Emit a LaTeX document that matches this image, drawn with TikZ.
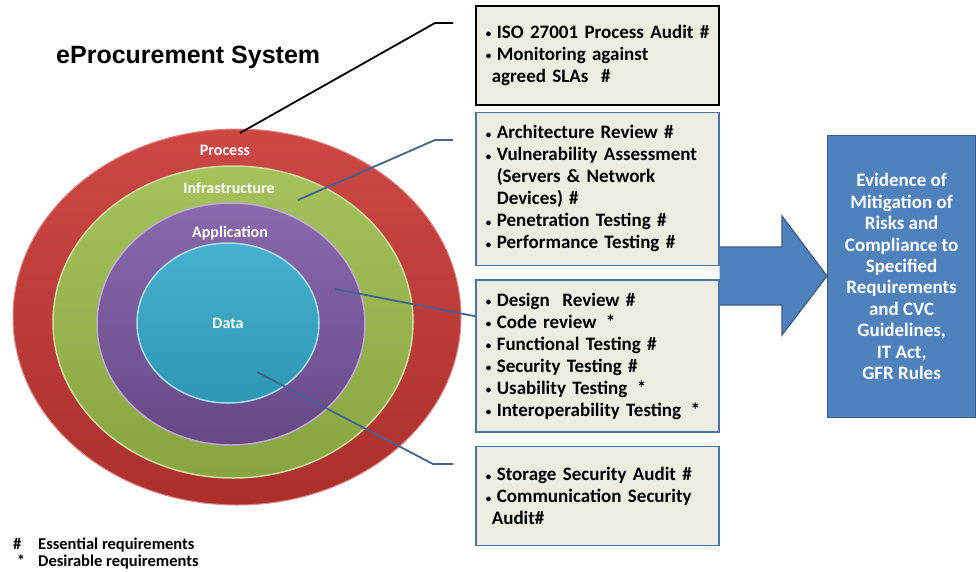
\documentclass[tikz,border=0pt]{standalone}
\usepackage{fontspec}
\setmainfont{Carlito}
\newfontfamily\titlefont{Liberation Sans}
\usetikzlibrary{positioning}

\definecolor{ringred}{HTML}{C93833}
\definecolor{ringgreen}{HTML}{9BBB4A}
\definecolor{ringpurple}{HTML}{7D58A4}
\definecolor{ringcyan}{HTML}{33AACA}
\definecolor{boxfill}{HTML}{EEECE1}
\definecolor{boxedge}{HTML}{4A72A8}
\definecolor{boxblue}{HTML}{4F81BD}
\definecolor{linkblue}{HTML}{41638F}

\newcommand{\bul}{\makebox[11pt][l]{\raisebox{0.5pt}{\fontsize{11}{11}\selectfont•}}}

\begin{document}
\begin{tikzpicture}[x=1pt, y=-1pt,
        box/.style={draw=boxedge, fill=boxfill, line width=1.6pt,
            minimum width=243pt, text width=223pt, inner xsep=10pt, align=left,
            font=\bfseries\fontsize{19}{22}\selectfont},
        ringlabel/.style={text=white, font=\bfseries\fontsize{16}{19}\selectfont},
        link/.style={draw=linkblue, line width=1.8pt}]
    \useasboundingbox (0,0) rectangle (976,571);

    % the four layers
    \shade[top color=ringred!92!white, bottom color=ringred!85!black, draw=ringred!60!white, line width=1pt]
        (237,317) ellipse [x radius=224pt, y radius=188pt];
    \shade[top color=ringgreen!90!white, bottom color=ringgreen!88!black, draw=ringgreen!50!white, line width=1.5pt]
        (233,322) ellipse [x radius=180pt, y radius=156pt];
    \shade[top color=ringpurple!90!white, bottom color=ringpurple!82!black, draw=ringpurple!50!white, line width=1.5pt]
        (231,324) ellipse [x radius=134pt, y radius=121pt];
    \shade[top color=ringcyan!90!white, bottom color=ringcyan!88!black, draw=ringcyan!40!white, line width=1.5pt]
        (228,323) ellipse [x radius=91pt, y radius=80pt];

    \node [ringlabel] (proclbl) at (225,150) {Process};
    \node [ringlabel] (infralbl) at (229,188) {Infrastructure};
    \node [ringlabel] (applbl) at (230,233) {Application};
    \node [ringlabel] (datalbl) at (228,323) {Data};

    \node [anchor=base west, inner sep=0, font=\titlefont\bfseries\fontsize{25}{30}\selectfont]
        (title) at (56,63) {eProcurement System};

    % requirement boxes
    \node [box, draw=black, anchor=north west, minimum height=99pt] (procbox) at (475,5)
        {\bul\mbox{ISO 27001 Process Audit \#}\\
         \bul Monitoring against\\
         \hspace*{6pt}agreed SLAs~~\#};
    \node [box, minimum height=153pt, below=6pt of procbox] (infrabox)
        {\bul Architecture Review \#\\
         \bul Vulnerability Assessment\\
         \hspace*{11pt}(Servers \& Network\\
         \hspace*{11pt}Devices) \#\\
         \bul Penetration Testing \#\\
         \bul Performance Testing \#};
    \node [box, minimum height=152pt, below=13pt of infrabox] (appbox)
        {\bul Design~~Review \#\\
         \bul Code review \,*\\
         \bul Functional Testing \#\\
         \bul Security Testing \#\\
         \bul Usability Testing \,*\\
         \bul Interoperability Testing \,*};
    \node [box, minimum height=99pt, below=13pt of appbox] (databox)
        {\bul Storage Security Audit \#\\
         \bul Communication Security\\
         \hspace*{6pt}Audit\#};

    \node [anchor=north west, minimum width=148pt, minimum height=282pt, fill=boxblue,
        draw=boxedge!80!black, line width=1.2pt, text=white, align=center,
        font=\bfseries\fontsize{19}{21.4}\selectfont] (evidence) at (827,135)
        {Evidence of\\ Mitigation of\\ Risks and\\ Compliance to\\ Specified\\
         Requirements\\ and CVC\\ Guidelines,\\ IT Act,\\ GFR Rules};

    % big arrow into the evidence box
    \path [fill=boxblue, draw=boxedge!80!black, line width=1.2pt]
        (infrabox.east |- 0,247) -- (782,247) -- (782,216) -- (evidence.west |- 0,276)
        -- (782,335) -- (782,305) -- (infrabox.east |- 0,305);

    % leader lines
    \coordinate (procpt) at (240,133);
    \coordinate (procknee) at (435,23);
    \coordinate (procend) at (453,23);
    \draw [link, draw=black] (procpt) -- (procknee) -- (procend);

    \coordinate (infrapt) at (298,200);
    \coordinate (infraknee) at (435,140);
    \coordinate (infraend) at (453,140);
    \draw [link] (infrapt) -- (infraknee) -- (infraend);

    \coordinate (apppt) at (335,289);
    \draw [link] (apppt) -- ([yshift=-37pt]appbox.north west);

    \coordinate (datapt) at (257,372);
    \coordinate (dataknee) at (433,464);
    \coordinate (dataend) at (453,464);
    \draw [link] (datapt) -- (dataknee) -- (dataend);

    % legend
    \node [anchor=north west, align=left, inner sep=0, font=\bfseries\fontsize{16.5}{17}\selectfont]
        (legend) at (13,538)
        {\makebox[25pt][l]{\#}Essential requirements\\
         \makebox[25pt][l]{~*}Desirable requirements};
\end{tikzpicture}
\end{document}
